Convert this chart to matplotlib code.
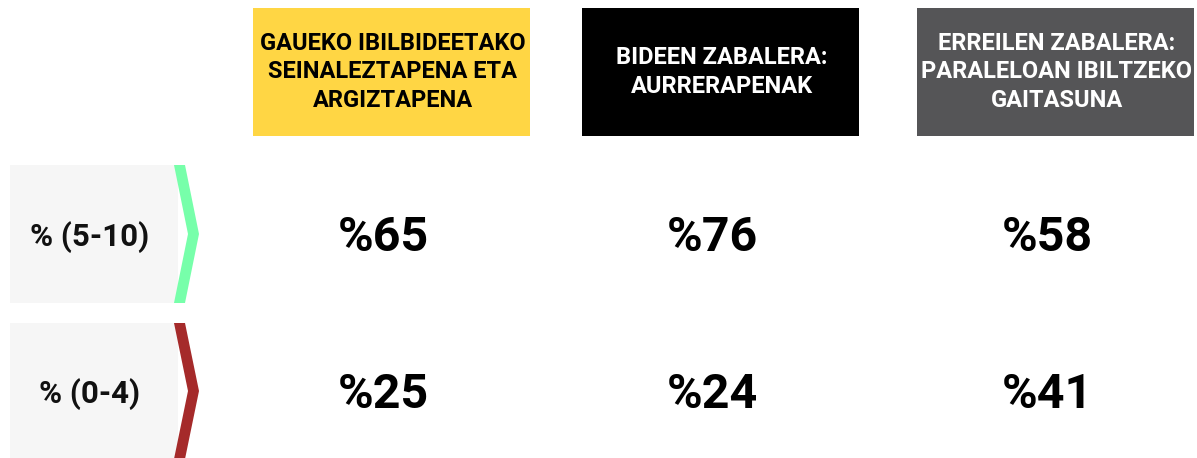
import matplotlib
matplotlib.use("Agg")
import matplotlib.pyplot as plt
from matplotlib.patches import Rectangle, Polygon

headers = ["GAUEKO IBILBIDEETAKO\nSEINALEZTAPENA ETA\nARGIZTAPENA",
           "BIDEEN ZABALERA:\nAURRERAPENAK",
           "ERREILEN ZABALERA:\nPARALELOAN IBILTZEKO\nGAITASUNA"]
header_colors = ["#FFD644", "#000000", "#555557"]
header_text_colors = ["#000000", "#FFFFFF", "#FFFFFF"]
row_labels = ["% (5-10)", "% (0-4)"]
row_colors = ["#77FFAA", "#A52A2A"]
values = [[65, 76, 58],
          [25, 24, 41]]

W, H = 1197, 458
fig = plt.figure(figsize=(W/100, H/100), dpi=100)
ax = fig.add_axes([0, 0, 1, 1])
ax.set_xlim(0, W)
ax.set_ylim(H, 0)
ax.axis("off")

font = "Roboto"
col_x = [253, 582, 917]
col_w = 277
for i, (h, c, tc) in enumerate(zip(headers, header_colors, header_text_colors)):
    ax.add_patch(Rectangle((col_x[i], 8), col_w, 128, facecolor=c, edgecolor="none"))
    ax.text(col_x[i] + col_w/2 + 1, 72, h, ha="center", va="center", color=tc,
            fontsize=17, fontweight="bold", family=font, linespacing=1.28)

row_y = [165, 323]
row_h = [138, 136]
for r, lab in enumerate(row_labels):
    y0 = row_y[r]; hh = row_h[r]
    ax.add_patch(Rectangle((10, y0), 168, hh, facecolor="#F6F6F6", edgecolor="none"))
    ym = y0 + hh/2
    ax.add_patch(Polygon([(174, y0), (185, y0), (199, ym), (185, y0+hh), (174, y0+hh), (188, ym)],
                         closed=True, facecolor=row_colors[r], edgecolor="none"))
    ax.text(90, ym + 3, lab, ha="center", va="center", fontsize=22.5, fontweight="bold",
            family=font, color="#111111")
    for i, v in enumerate(values[r]):
        ax.text(col_x[i] + col_w/2 - 8, ym + 4, f"%{v}", ha="center", va="center",
                fontsize=34.8, fontweight="bold", family=font, color="#000000")

fig.savefig("out.png", dpi=100)
